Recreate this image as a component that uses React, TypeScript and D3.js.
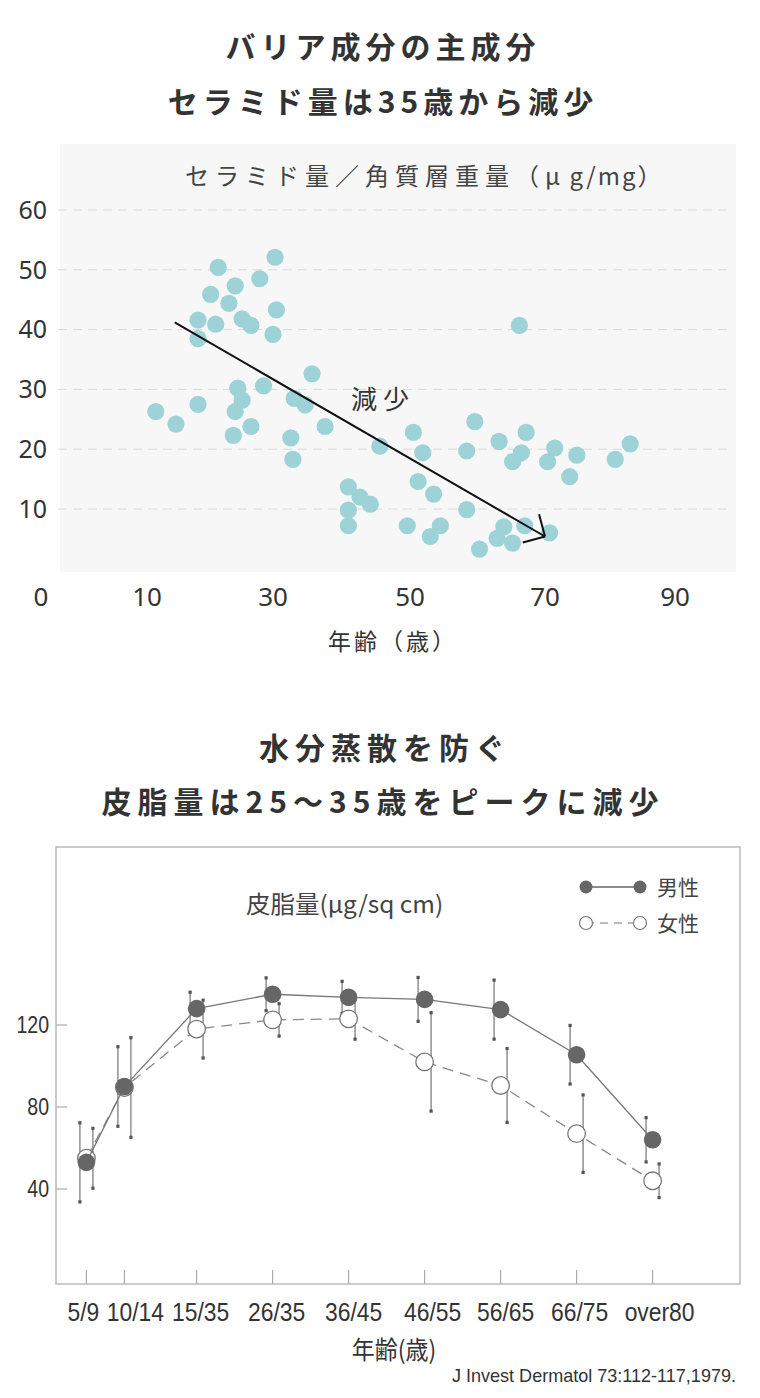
import * as d3 from "d3";

// ---- ceramide scatter (top) ----
const ceramideAge = [
  11.4, 14.6, 18.1, 18.1, 18.1, 21.3, 20.1, 20.9, 23.0, 24.0, 25.1, 26.5, 27.9, 30.3, 30.5, 30.0,
  24.4, 25.1, 24.0, 23.7, 26.5, 28.5, 35.7, 33.1, 34.7, 37.6, 32.6, 32.9, 41.0, 42.7, 44.2, 41.0,
  41.0, 45.6, 66.2, 50.5, 51.9, 59.6, 58.4, 63.2, 67.2, 66.5, 65.2, 71.5, 70.4, 74.9, 73.8, 80.8,
  83.1, 51.2, 53.5, 58.4, 49.6, 54.5, 53.0, 60.3, 62.9, 63.9, 65.2, 67.0, 70.7,
];
const ceramideValue = [
  26.3, 24.2, 27.5, 41.6, 38.5, 50.4, 45.9, 40.9, 44.4, 47.3, 41.8, 40.7, 48.5, 52.1, 43.3, 39.2,
  30.2, 28.2, 26.3, 22.3, 23.8, 30.6, 32.6, 28.5, 27.4, 23.8, 21.9, 18.3, 13.7, 12.0, 10.8, 9.8,
  7.2, 20.5, 40.7, 22.8, 19.4, 24.6, 19.7, 21.3, 22.8, 19.4, 17.9, 20.2, 17.9, 19.0, 15.4, 18.3,
  20.9, 14.6, 12.5, 9.9, 7.2, 7.2, 5.4, 3.3, 5.1, 7.0, 4.3, 7.2, 6.0,
];
const ageTicks = [0, 10, 30, 50, 70, 90];
const ceramideTicks = [10, 20, 30, 40, 50, 60];
const trendStart = { age: 14.4, value: 41.2 };
const trendEnd = { age: 70.0, value: 5.4 };

// ---- sebum by age group (bottom) ----
const sebumGroups = ["5/9", "10/14", "15/35", "26/35", "36/45", "46/55", "56/65", "66/75", "over80"];
const groupAge = [6, 11, 20.5, 30.5, 40.5, 50.5, 60.5, 70.5, 80.5];
const maleMean = [53, 90, 128, 135, 133.5, 132.5, 127.5, 105.5, 64];
const maleSd = [19.3, 19.4, 8.0, 8.0, 7.8, 10.7, 14.4, 14.3, 10.8];
const femaleMean = [55, 89.5, 118, 122.5, 123, 102, 90.5, 67, 44];
const femaleSd = [14.6, 24.3, 14.1, 7.9, 9.9, 24.0, 18.0, 18.9, 8.2];
const sebumTicks = [40, 80, 120];

const JP = "'Noto Sans CJK JP', 'Noto Sans', sans-serif";
const COND = "'Liberation Sans', 'Noto Sans CJK JP', sans-serif";

// condensed-looking text: squeeze horizontally around the anchor point
function Narrow(props: {
  x: number;
  y: number;
  size: number;
  anchor?: "start" | "middle" | "end";
  sx?: number;
  fill?: string;
  family?: string;
  children: React.ReactNode;
}) {
  const { x, y, size, anchor = "middle", sx = 0.85, fill = "#333", family = COND, children } = props;
  return (
    <text
      transform={`translate(${x},${y}) scale(${sx},1)`}
      textAnchor={anchor}
      fontFamily={family}
      fontSize={size}
      fill={fill}
    >
      {children}
    </text>
  );
}

export default function App() {
  // top chart scales (tick labels in the source are unevenly spaced)
  const x1 = d3.scaleLinear().domain(ageTicks).range([41, 147, 273, 410, 545, 675]);
  const y1 = d3.scaleLinear().domain([0, 60]).range([568.8, 210]);

  // arrow
  const ax0 = x1(trendStart.age), ay0 = y1(trendStart.value);
  const ax1 = x1(trendEnd.age), ay1 = y1(trendEnd.value);
  const ang = Math.atan2(ay1 - ay0, ax1 - ax0);
  const headLen = 23;
  const head = [ang + Math.PI - Math.PI / 4, ang + Math.PI + Math.PI / 4].map((a) => [
    ax1 + headLen * Math.cos(a),
    ay1 + headLen * Math.sin(a),
  ]);

  // bottom chart scales
  const x2 = d3.scaleLinear().domain([2, 92]).range([56, 740]);
  const y2 = d3.scaleLinear().domain([0, 120]).range([1271, 1025]);
  const line = d3
    .line<number>()
    .x((_, i) => x2(groupAge[i]))
    .y((d) => y2(d));
  const barOff = 6.5;
  // labels in the source sit a little off their ticks
  const labelShift = [-3, 11, 4, 4, 5, 8, 5, 3, 7];

  return (
    <svg
      width={760}
      height={1398}
      style={{ position: "absolute", left: 0, top: 0, display: "block", background: "#fff" }}
    >
      {/* ---------- titles top ---------- */}
      <g fontFamily={JP} fontWeight="bold" fill="#333" fontSize={30} textAnchor="middle" letterSpacing={5}>
        <text x={383} y={58}>バリア成分の主成分</text>
        <text x={383} y={113}>セラミド量は35歳から減少</text>
      </g>

      {/* ---------- scatter ---------- */}
      <rect x={60} y={144} width={676} height={428} fill="#f7f7f7" />
      {ceramideTicks.map((t) => (
        <line
          key={t}
          x1={58}
          x2={733}
          y1={y1(t)}
          y2={y1(t)}
          stroke="#d9d9d9"
          strokeWidth={1}
          strokeDasharray="9 6"
        />
      ))}
      <text x={185} y={185} fontFamily={JP} fontSize={24} fill="#444">
        <tspan letterSpacing={6}>セラミド量／角質層重量（</tspan>
        <tspan letterSpacing={2}>μ g/mg</tspan>
        <tspan>）</tspan>
      </text>
      <g fontFamily="'Noto Sans', sans-serif" fontSize={25} fill="#333">
        {ceramideTicks.map((t) => (
          <text key={t} x={47} y={y1(t)} dy="0.35em" textAnchor="end">
            {t}
          </text>
        ))}
        {ageTicks.map((t) => (
          <text key={t} x={x1(t)} y={606} textAnchor="middle" fontSize={26}>
            {t}
          </text>
        ))}
      </g>
      <text x={393} y={650} fontFamily={JP} fontSize={23} fill="#333" textAnchor="middle" letterSpacing={3}>
        年齢（歳）
      </text>
      {ceramideAge.map((a, i) => (
        <circle key={i} cx={x1(a)} cy={y1(ceramideValue[i])} r={8.6} fill="#9dd3d6" />
      ))}
      <line x1={ax0} y1={ay0} x2={ax1} y2={ay1} stroke="#111" strokeWidth={2} />
      {head.map(([hx, hy], i) => (
        <line key={i} x1={ax1} y1={ay1} x2={hx} y2={hy} stroke="#111" strokeWidth={2} />
      ))}
      <text x={351} y={409} fontFamily={JP} fontSize={26} fill="#333" letterSpacing={6}>
        減少
      </text>

      {/* ---------- titles bottom ---------- */}
      <g fontFamily={JP} fontWeight="bold" fill="#333" fontSize={30} textAnchor="middle" letterSpacing={6}>
        <text x={385} y={759}>水分蒸散を防ぐ</text>
        <text x={383} y={813}>皮脂量は25～35歳をピークに減少</text>
      </g>

      {/* ---------- sebum chart ---------- */}
      <rect x={56} y={847} width={684} height={437} fill="none" stroke="#bbb" strokeWidth={1.5} />
      {sebumTicks.map((t) => (
        <g key={t}>
          <line x1={56} x2={67} y1={y2(t)} y2={y2(t)} stroke="#aaa" strokeWidth={1.2} />
          <Narrow x={49} y={y2(t) + 8} size={23} anchor="end">
            {t}
          </Narrow>
        </g>
      ))}
      {sebumGroups.map((g, i) => (
        <g key={g}>
          <line x1={x2(groupAge[i])} x2={x2(groupAge[i])} y1={1284} y2={1270} stroke="#aaa" strokeWidth={1.2} />
          <Narrow x={x2(groupAge[i]) + labelShift[i]} y={1321} size={26} sx={0.88}>
            {g}
          </Narrow>
        </g>
      ))}
      <Narrow x={394} y={1359} size={25} family={JP} sx={0.92}>
        年齢(歳)
      </Narrow>
      <Narrow x={736} y={1382} size={19} anchor="end" sx={0.95}>
        J Invest Dermatol 73:112-117,1979.
      </Narrow>
      <Narrow x={246} y={913} size={24} anchor="start" family={JP} sx={1.02} fill="#444">
        皮脂量(μg/sq cm)
      </Narrow>

      {/* legend */}
      <line x1={586} x2={640} y1={887} y2={887} stroke="#666" strokeWidth={1.3} />
      <circle cx={586} cy={887} r={6.5} fill="#666" />
      <circle cx={640} cy={887} r={6.5} fill="#666" />
      <text x={657} y={887} dy="0.36em" fontFamily={JP} fontSize={21} fill="#444">
        男性
      </text>
      <line x1={586} x2={640} y1={923} y2={923} stroke="#777" strokeWidth={1.2} strokeDasharray="8 6" />
      <circle cx={586} cy={923} r={6.5} fill="#fff" stroke="#777" strokeWidth={1.2} />
      <circle cx={640} cy={923} r={6.5} fill="#fff" stroke="#777" strokeWidth={1.2} />
      <text x={657} y={923} dy="0.36em" fontFamily={JP} fontSize={21} fill="#444">
        女性
      </text>

      {/* error bars */}
      {groupAge.map((a, i) => {
        const bars = [
          { x: x2(a) - barOff, m: maleMean[i], s: maleSd[i] },
          { x: x2(a) + barOff, m: femaleMean[i], s: femaleSd[i] },
        ];
        return (
          <g key={i}>
            {bars.map((b, j) => (
              <g key={j}>
                <line x1={b.x} x2={b.x} y1={y2(b.m + b.s)} y2={y2(b.m - b.s)} stroke="#888" strokeWidth={1.4} />
                <rect x={b.x - 1.6} y={y2(b.m + b.s) - 1.6} width={3.2} height={3.2} fill="#555" />
                <rect x={b.x - 1.6} y={y2(b.m - b.s) - 1.6} width={3.2} height={3.2} fill="#555" />
              </g>
            ))}
          </g>
        );
      })}

      {/* female */}
      <path d={line(femaleMean) ?? ""} fill="none" stroke="#888" strokeWidth={1.3} strokeDasharray="11 7" />
      {femaleMean.map((v, i) => (
        <circle key={i} cx={x2(groupAge[i])} cy={y2(v)} r={8.8} fill="#fff" stroke="#777" strokeWidth={1.3} />
      ))}
      {/* male */}
      <path d={line(maleMean) ?? ""} fill="none" stroke="#777" strokeWidth={1.3} />
      {maleMean.map((v, i) => (
        <circle key={i} cx={x2(groupAge[i])} cy={y2(v)} r={8.8} fill="#666" />
      ))}
    </svg>
  );
}
